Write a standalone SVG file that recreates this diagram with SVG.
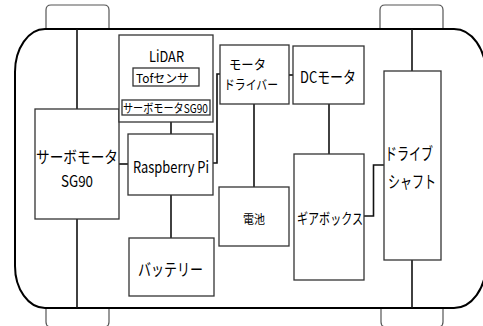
<svg xmlns="http://www.w3.org/2000/svg" width="483" height="326" viewBox="0 0 483 326">
<style>
.body{fill:none;stroke:#000;stroke-width:2}
.wheel{fill:none;stroke:#555;stroke-width:1.2}
.box{fill:#fff;stroke:#333;stroke-width:1.3}
.ln{fill:none;stroke:#111;stroke-width:1.6}
text{font-family:"Noto Sans CJK JP","Noto Sans",sans-serif;fill:#000;text-anchor:middle;dominant-baseline:central}
</style>
<rect width="483" height="326" fill="#fff"/>
<g id="wheels">
<path class="wheel" d="M46,29 V10 Q46,5 51,5 H104 Q109,5 109,10 V29"/>
<path class="wheel" d="M380,29 V10 Q380,5 385,5 H438 Q443,5 443,10 V29"/>
<path class="wheel" d="M46,308 V322 Q46,327 51,327 M109,308 V322 Q109,327 104,327"/>
<path class="wheel" d="M381,308 V322 Q381,327 386,327 M443,308 V322 Q443,327 438,327"/>
</g>
<g id="car-body">
<path class="body" d="M45,29 H454 A32,45 0 0 1 486,74 V264 A32,44 0 0 1 454,308 H45 A30,42 0 0 1 15,266 V72 A30,43 0 0 1 45,29 Z"/>
</g>
<g id="connectors">
<path class="ln" d="M77,29 V109"/>
<path class="ln" d="M77,219 V308"/>
<path class="ln" d="M412,29 V71"/>
<path class="ln" d="M412,260 V308"/>
<path class="ln" d="M171,122 V134"/>
<path class="ln" d="M119,164 H128"/>
<path class="ln" d="M171,195 V238"/>
<path class="ln" d="M213,163 H217 V74 H220"/>
<path class="ln" d="M289,75 H293"/>
<path class="ln" d="M254,104 V187"/>
<path class="ln" d="M329,104 V154"/>
<path class="ln" d="M364,216 H373.5 V165 H384"/>
</g>
<g id="servo">
<rect class="box" x="35" y="109" width="84" height="110"/>
<text x="77" y="156" font-size="15.5" textLength="82" lengthAdjust="spacingAndGlyphs">サーボモータ</text>
<text x="77" y="180" font-size="15.5" textLength="32" lengthAdjust="spacingAndGlyphs">SG90</text>
</g>
<g id="lidar">
<rect class="box" x="119" y="35" width="94" height="87"/>
<text x="166.5" y="55" font-size="15" textLength="35" lengthAdjust="spacingAndGlyphs">LiDAR</text>
</g>
<g id="tof">
<rect class="box" x="133" y="68" width="66" height="18"/>
<text x="162.5" y="77.5" font-size="12" textLength="53" lengthAdjust="spacingAndGlyphs">Tofセンサ</text>
</g>
<g id="lidar-servo">
<rect class="box" x="122" y="100" width="88" height="15"/>
<text x="165.5" y="107.5" font-size="12" textLength="85" lengthAdjust="spacingAndGlyphs">サーボモータSG90</text>
</g>
<g id="raspberry">
<rect class="box" x="128" y="134" width="85" height="61"/>
<text x="171" y="166" font-size="16" textLength="76" lengthAdjust="spacingAndGlyphs">Raspberry Pi</text>
</g>
<g id="battery">
<rect class="box" x="129" y="238" width="85" height="58"/>
<text x="170.5" y="268" font-size="17" textLength="65" lengthAdjust="spacingAndGlyphs">バッテリー</text>
</g>
<g id="driver">
<rect class="box" x="220" y="45" width="69" height="59"/>
<text x="247.5" y="63" font-size="13" textLength="37" lengthAdjust="spacingAndGlyphs">モータ</text>
<text x="251" y="83" font-size="13" textLength="54" lengthAdjust="spacingAndGlyphs">ドライバー</text>
</g>
<g id="dcmotor">
<rect class="box" x="293" y="46" width="71" height="58"/>
<text x="328" y="76" font-size="16" textLength="56" lengthAdjust="spacingAndGlyphs">DCモータ</text>
</g>
<g id="denchi">
<rect class="box" x="219" y="187" width="70" height="59"/>
<text x="254" y="218" font-size="12" textLength="22" lengthAdjust="spacingAndGlyphs">電池</text>
</g>
<g id="gearbox">
<rect class="box" x="294" y="154" width="70" height="126"/>
<text x="330" y="217" font-size="15" textLength="66" lengthAdjust="spacingAndGlyphs">ギアボックス</text>
</g>
<g id="driveshaft">
<rect class="box" x="384" y="71" width="57" height="189"/>
<text x="409" y="152" font-size="17" textLength="48" lengthAdjust="spacingAndGlyphs">ドライブ</text>
<text x="412" y="180" font-size="17" textLength="48" lengthAdjust="spacingAndGlyphs">シャフト</text>
</g>
</svg>
